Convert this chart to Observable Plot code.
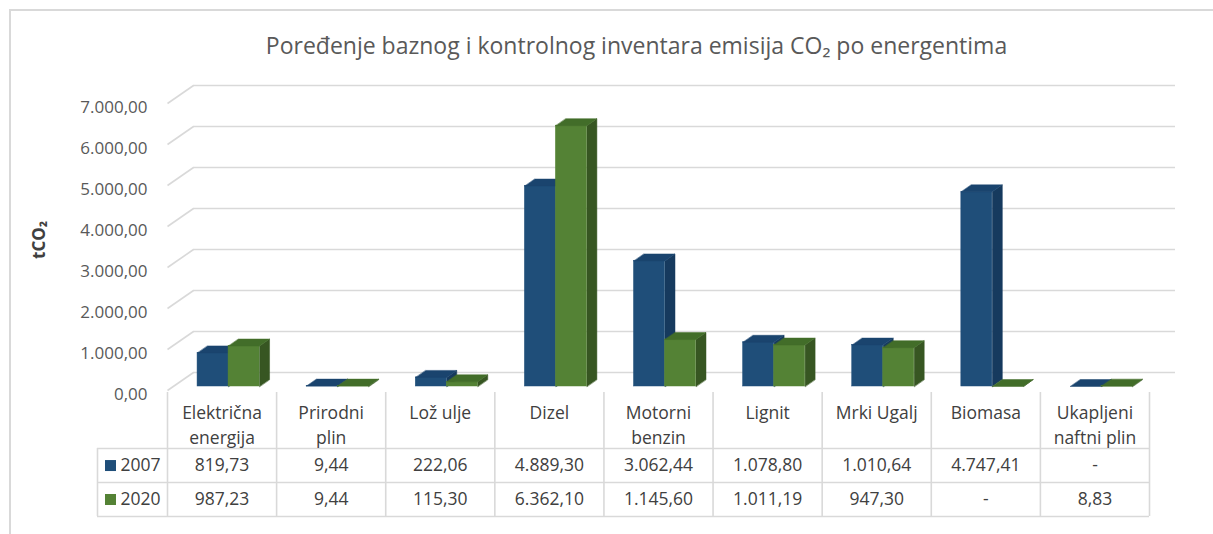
<!DOCTYPE html>
<html><head><meta charset="utf-8">
<script src="https://cdn.jsdelivr.net/npm/d3@7"></script>
<script src="https://cdn.jsdelivr.net/npm/@observablehq/plot@0.6"></script>
<style>
html,body{margin:0;padding:0;background:#fff;}
body{width:1213px;height:534px;position:relative;overflow:hidden;font-family:"Open Sans",sans-serif;}
#frame{position:absolute;left:9px;top:9px;width:1220px;height:540px;border-left:2px solid #d9d9d9;border-top:2px solid #d9d9d9;}
#title{position:absolute;top:29px;left:60px;width:1153px;text-align:center;font-size:23px;color:#595959;white-space:nowrap;}
#chart{position:absolute;left:0;top:0;}
#table{position:absolute;left:0;top:390px;}
svg{display:block;overflow:visible;}
</style></head><body>
<div id="frame"></div>
<div id="title">Poređenje baznog i kontrolnog inventara emisija CO₂ po energentima</div>
<div id="chart"></div>
<div id="table"></div>
<script>
// ---- data ----
const categories = ["Električna\nenergija", "Prirodni\nplin", "Lož ulje", "Dizel", "Motorni\nbenzin", "Lignit", "Mrki Ugalj", "Biomasa", "Ukapljeni\nnaftni plin"];
const series = ["2007", "2020"];
const values2007 = [819.73, 9.44, 222.06, 4889.30, 3062.44, 1078.80, 1010.64, 4747.41, null];
const values2020 = [987.23, 9.44, 115.30, 6362.10, 1145.60, 1011.19, 947.30, null, 8.83];
const yTicks = [0, 1000, 2000, 3000, 4000, 5000, 6000, 7000];
const yTitle = "tCO₂";

// ---- styles / geometry ----
const colors = {
  "2007": {front: "#1f4e79", top: "#1a446e", side: "#163a5e"},
  "2020": {front: "#548235", top: "#426d29", side: "#375622"}
};
const FONT = "'Open Sans', sans-serif";
const gridColor = "#d9d9d9";
const textColor = "#595959";
const tableText = "#404040";
const TICK_FS = 17, TABLE_FS = 17.5;
const W = 1213, CH = 390, ML = 167, MR = 64, MT = 103;
const kx = (W - ML - MR) / categories.length;   // px per category
const ky = (CH - MT) / 7000;                     // px per tCO2
const wallDX = 26, wallDY = 18;                  // back wall offset (px)
const barDX = 10, barDY = 7;                     // bar depth (px)
const barW = 31 / kx;                            // bar width (category units)
const planeDX = 6.5, planeDY = -4;               // bar plane offset (px)

const fmt = d3.formatLocale({decimal: ",", thousands: ".", grouping: [3], currency: ["", ""]}).format(",.2f");
const valuesBy = {"2007": values2007, "2020": values2020};

// build faces
const fronts = [], tops = [], sides = [];
series.forEach((s, si) => {
  valuesBy[s].forEach((v, i) => {
    const val = v ?? 0;
    const c = i + 0.5;
    const x0 = si === 0 ? c - barW : c;
    const x1 = x0 + barW;
    const ddx = barDX / kx, ddy = barDY / ky;
    fronts.push({s, x0, x1, y0: 0, y1: val});
    const tid = s + "-t-" + i, sid = s + "-s-" + i;
    [[x0, val], [x1, val], [x1 + ddx, val + ddy], [x0 + ddx, val + ddy]].forEach(([x, y]) => tops.push({s, id: tid, x, y}));
    [[x1, 0], [x1, val], [x1 + ddx, val + ddy], [x1 + ddx, ddy]].forEach(([x, y]) => sides.push({s, id: sid, x, y}));
  });
});

const barMarks = [];
series.forEach(s => {
  const col = colors[s];
  barMarks.push(Plot.line(sides.filter(d => d.s === s), {x: "x", y: "y", z: "id", curve: "linear-closed", fill: col.side, stroke: col.side, strokeWidth: 0.5, dx: planeDX, dy: planeDY}));
  barMarks.push(Plot.rect(fronts.filter(d => d.s === s), {x1: "x0", x2: "x1", y1: "y0", y2: "y1", fill: col.front, stroke: col.front, strokeWidth: 0.5, dx: planeDX, dy: planeDY}));
  barMarks.push(Plot.line(tops.filter(d => d.s === s), {x: "x", y: "y", z: "id", curve: "linear-closed", fill: col.top, stroke: col.top, strokeWidth: 0.5, dx: planeDX, dy: planeDY}));
});

const chart = Plot.plot({
  width: W, height: CH,
  marginLeft: ML, marginRight: MR, marginTop: MT, marginBottom: 0,
  x: {domain: [0, categories.length], axis: null},
  y: {domain: [0, 7000], axis: null},
  style: {fontFamily: FONT, fontSize: TICK_FS + "px", color: textColor, background: "transparent", overflow: "visible"},
  marks: [
    Plot.ruleY(yTicks, {x1: 0, x2: categories.length, dx: wallDX, dy: -wallDY, stroke: gridColor, strokeWidth: 1.6}),
    Plot.link(yTicks, {x1: 0, y1: d => d, x2: wallDX / kx, y2: d => d + wallDY / ky, stroke: gridColor, strokeWidth: 1.6}),
    ...barMarks,
    Plot.text(yTicks, {y: d => d, frameAnchor: "left", dx: -20, dy: 4, textAnchor: "end", text: d => fmt(d), fill: textColor, fontSize: TICK_FS}),
    Plot.text([yTitle], {frameAnchor: "left", dx: -128, dy: 12, rotate: -90, text: d => d, fill: tableText, fontWeight: "bold", fontSize: 17})
  ]
});
document.getElementById("chart").appendChild(chart);

// ---- data table ----
const rowLines = [1.65, 2.65, 3.65];
const rowCenter = {"2007": 2.15, "2020": 3.15};
const tableRows = [];
series.forEach(s => valuesBy[s].forEach((v, i) => tableRows.push({s, i, v})));

const table = Plot.plot({
  width: W, height: 144,
  marginLeft: ML, marginRight: MR, marginTop: 2, marginBottom: 18,
  x: {domain: [0, categories.length], axis: null},
  y: {domain: [0, 3.65], range: [2, 126], axis: null},
  style: {fontFamily: FONT, fontSize: TABLE_FS + "px", color: tableText, background: "transparent", overflow: "visible"},
  marks: [
    Plot.ruleX(d3.range(categories.length + 1), {y1: 0, y2: 3.65, stroke: gridColor, strokeWidth: 1.6}),
    Plot.ruleX([0], {y1: 1.65, y2: 3.65, dx: -70, stroke: gridColor, strokeWidth: 1.6}),
    Plot.ruleY(rowLines, {x1: 0, x2: categories.length, insetLeft: -70, stroke: gridColor, strokeWidth: 1.6}),
    Plot.text(categories, {x: (d, i) => i + 0.5, y: 0.62, text: d => d.split("\n")[0], fill: tableText, fontSize: TABLE_FS}),
    Plot.text(categories, {x: (d, i) => i + 0.5, y: 1.36, text: d => d.split("\n")[1] ?? "", fill: tableText, fontSize: TABLE_FS}),
    Plot.text(tableRows, {x: d => d.i + 0.5, y: d => rowCenter[d.s], text: d => d.v == null ? "-" : fmt(d.v), fill: tableText, fontSize: TABLE_FS}),
    Plot.dot(series, {x: 0, y: d => rowCenter[d], dx: -57, symbol: "square", r: 6.2, fill: d => colors[d].front, stroke: "none"}),
    Plot.text(series, {x: 0, y: d => rowCenter[d], dx: -47, textAnchor: "start", text: d => d, fill: tableText, fontSize: TABLE_FS})
  ]
});
document.getElementById("table").appendChild(table);
</script>
</body></html>
